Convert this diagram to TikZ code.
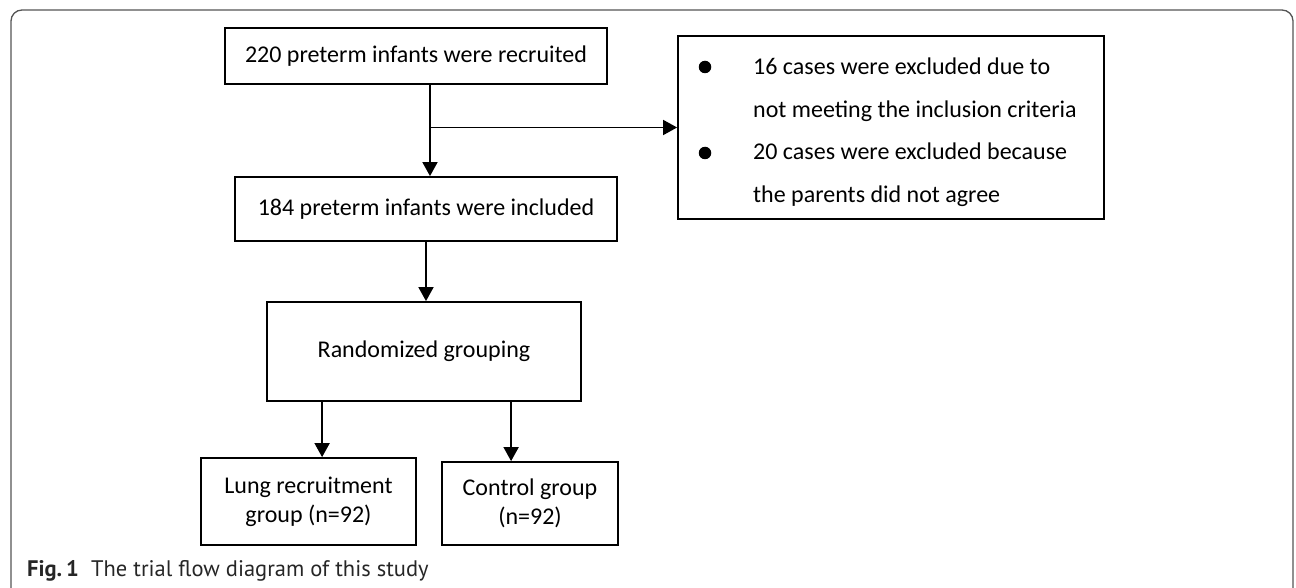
\documentclass[tikz,border=0pt]{standalone}
\usepackage{fontspec}
\setmainfont{Carlito}
\newfontfamily\capfont{PT Sans}
\usetikzlibrary{arrows.meta}
\definecolor{framegray}{RGB}{85,85,85}
\begin{document}
\begin{tikzpicture}[x=1pt,y=-1pt,
  box/.style={draw=black,line width=1.8pt,inner sep=0pt,align=center,font=\fontsize{24}{29}\selectfont},
  arr/.style={line width=1.8pt,-{Triangle[length=14pt,width=15pt]}},
  txt/.style={inner sep=0pt,anchor=base west,font=\fontsize{24}{29}\selectfont},
  bul/.style={circle,fill=black,inner sep=0pt,minimum size=12.5pt}]
\useasboundingbox (0,0) rectangle (1296,588);
\draw[line width=1.3pt,draw=framegray,rounded corners=11pt] (11,10) rectangle (1293,600);

\node[box,minimum width=382pt,minimum height=56pt] (box1) at (416,56) {220 preterm infants were recruited};
\node[box,minimum width=426pt,minimum height=183pt] (exbox) at (891,127.5) {};
\node[box,minimum width=382pt,minimum height=64pt] (box2) at (426,209) {184 preterm infants were included};
\node[box,minimum width=314pt,minimum height=99pt] (rbox) at (424,351.5) {Randomized grouping};
\node[box,minimum width=215pt,minimum height=87pt] (lbox) at (308.5,501.5) {Lung recruitment\\group (n=92)};
\node[box,minimum width=176pt,minimum height=83pt] (cbox) at (530,503.5) {Control group\\(n=92)};

\node[bul] (b1) at (705,67) {};
\node[bul] (b2) at (705,153) {};
\node[txt] (ex1) at (753,75) {16 cases were excluded due to};
\node[txt] (ex2) at (753,118) {not meeting the inclusion criteria};
\node[txt] (ex3) at (753,160) {20 cases were excluded because};
\node[txt] (ex4) at (753,203) {the parents did not agree};

\coordinate (br) at ([xshift=4pt]box2.north |- exbox.west);
\draw[arr] ([xshift=4pt]box2.north |- box1.south) -- ([xshift=4pt]box2.north);
\draw[arr] (br) -- (exbox.west);
\draw[arr] (box2.south) -- (box2.south |- rbox.north);
\draw[arr] ([xshift=56pt]rbox.south west) -- ([xshift=56pt]rbox.south west |- lbox.north);
\draw[arr] ([xshift=245pt]rbox.south west) -- ([xshift=245pt]rbox.south west |- cbox.north);

\node[anchor=base west,inner sep=0pt,text=black!85] (cap) at (27,576)
  {\capfont\fontsize{22.5}{27}\selectfont\textbf{Fig.\,1}\hspace{0.55em}The trial flow diagram of this study};
\end{tikzpicture}
\end{document}
